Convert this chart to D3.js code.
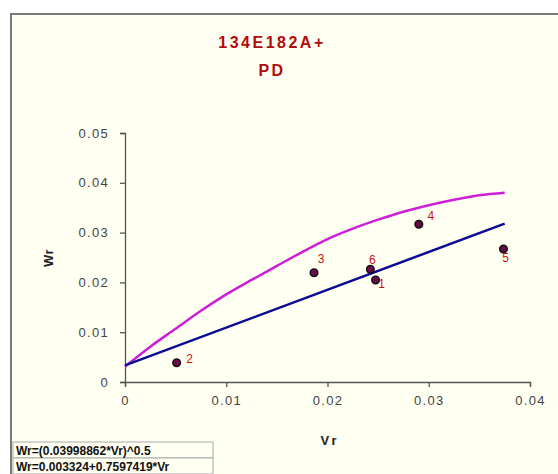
<!DOCTYPE html>
<html>
<head>
<meta charset="utf-8">
<script src="https://cdn.jsdelivr.net/npm/d3@7"></script>
<style>
  body { margin: 0; background: #fff; }
  svg { display: block; }
  text { font-family: Arial, "Liberation Sans", sans-serif; }
</style>
</head>
<body>
<svg id="chart" width="558" height="474"></svg>
<script>
// observed points
const pointIds = ["1", "2", "3", "4", "5", "6"]
const vrValues = [0.02475, 0.0051, 0.01867, 0.02902, 0.03738, 0.02423]
const wrValues = [0.02048, 0.00388, 0.02195, 0.03167, 0.02671, 0.02263]

// curves as drawn
const curveVr = [0, 0.0025, 0.005, 0.0075, 0.01, 0.0125, 0.015, 0.0175, 0.02, 0.0225, 0.025, 0.0275, 0.03, 0.0325, 0.035, 0.0375]
const curveWr = [0.0031, 0.0071, 0.0107, 0.0143, 0.0176, 0.0205, 0.0233, 0.0261, 0.0287, 0.0308, 0.0326, 0.0342, 0.0355, 0.0366, 0.0375, 0.0380]
const lineVr = [0, 0.0375]
const lineWr = [0.003324, 0.03181]

const xTicks = [0, 0.01, 0.02, 0.03, 0.04]
const yTicks = [0, 0.01, 0.02, 0.03, 0.04, 0.05]
const titleLines = ["134E182A+", "PD"]
const legendLines = ["Wr=(0.03998862*Vr)^0.5", "Wr=0.003324+0.7597419*Vr"]

const svg = d3.select("#chart")

// chart area background + border
svg.append("rect").attr("x", 11).attr("y", 14).attr("width", 560).attr("height", 470)
  .attr("fill", "#fffff2").attr("stroke", "#7a7a7a").attr("stroke-width", 2)

const x = d3.scaleLinear().domain([0, 0.04]).range([125, 530])
const y = d3.scaleLinear().domain([0, 0.05]).range([382, 133])

// titles
svg.selectAll(".title").data(titleLines).enter().append("text")
  .attr("x", 272).attr("y", (d, i) => 48 + i * 28)
  .attr("text-anchor", "middle")
  .style("font-size", "16px").style("font-weight", "bold")
  .style("letter-spacing", "2.5px")
  .attr("fill", "#b50a0a")
  .text(d => d)

// axes
const xAxis = svg.append("g").attr("transform", "translate(0,382)")
  .call(d3.axisBottom(x).tickValues(xTicks).tickSize(5).tickPadding(9)
    .tickFormat(d => d === 0 ? "0" : d3.format(".2f")(d)))
const yAxis = svg.append("g").attr("transform", "translate(125,0)")
  .call(d3.axisLeft(y).tickValues(yTicks).tickSize(5).tickPadding(11)
    .tickFormat(d => d === 0 ? "0" : d3.format(".2f")(d)))

;[xAxis, yAxis].forEach(g => {
  g.select(".domain").attr("stroke", "#555").attr("stroke-width", 1.3)
  g.selectAll(".tick line").attr("stroke", "#555").attr("stroke-width", 1.3)
  g.selectAll(".tick text").attr("fill", "#444")
    .style("font-size", "13px").style("letter-spacing", "1.3px")
    .style("font-family", "Arial, 'Liberation Sans', sans-serif")
})

// axis titles
svg.append("text").attr("x", 330).attr("y", 445).attr("text-anchor", "middle")
  .style("font-size", "13px").style("font-weight", "bold").style("letter-spacing", "3px")
  .attr("fill", "#222").text("Vr")
svg.append("text").attr("transform", "translate(53,258) rotate(-90)").attr("text-anchor", "middle")
  .style("font-size", "13px").style("font-weight", "bold").style("letter-spacing", "0.5px")
  .attr("fill", "#222").text("Wr")

// power curve
svg.append("path").datum(d3.zip(curveVr, curveWr))
  .attr("d", d3.line().x(d => x(d[0])).y(d => y(d[1])).curve(d3.curveMonotoneX))
  .attr("fill", "none").attr("stroke", "#cc1fd6").attr("stroke-width", 2.5)

// linear fit
svg.append("path").datum(d3.zip(lineVr, lineWr))
  .attr("d", d3.line().x(d => x(d[0])).y(d => y(d[1])))
  .attr("fill", "none").attr("stroke", "#0a0a96").attr("stroke-width", 2.5)

// points
const points = pointIds.map((id, i) => ({ id, vr: vrValues[i], wr: wrValues[i] }))
svg.selectAll(".pt").data(points).enter().append("circle")
  .attr("cx", d => x(d.vr)).attr("cy", d => y(d.wr)).attr("r", 3.8)
  .attr("fill", "#6a0a4a").attr("stroke", "#111").attr("stroke-width", 1.5)

// label placement next to each point
const labelShift = { "1": [6, 8], "2": [13, 0], "3": [7, -10], "4": [12, -4], "5": [2, 13], "6": [2, -5] }
svg.selectAll(".lbl").data(points).enter().append("text")
  .attr("x", d => x(d.vr) + labelShift[d.id][0])
  .attr("y", d => y(d.wr) + labelShift[d.id][1])
  .attr("text-anchor", "middle")
  .style("font-size", "12px").attr("fill", "#d01010")
  .text(d => d.id)

// legend table
const legend = svg.append("g")
legend.selectAll("rect").data(legendLines).enter().append("rect")
  .attr("x", 13).attr("y", (d, i) => 442 + i * 16).attr("width", 200).attr("height", 16)
  .attr("fill", "#fffff2").attr("stroke", "#aaa").attr("stroke-width", 1)
legend.selectAll("text").data(legendLines).enter().append("text")
  .attr("x", 16).attr("y", (d, i) => 455 + i * 16)
  .style("font-size", "12px").style("font-weight", "bold").attr("fill", "#111")
  .text(d => d)
</script>
</body>
</html>
